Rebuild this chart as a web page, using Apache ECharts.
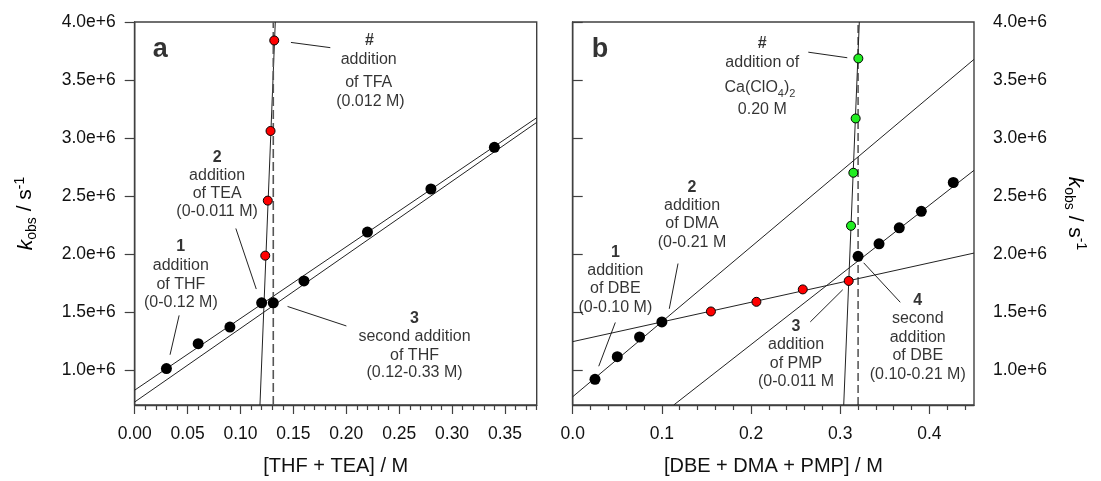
<!DOCTYPE html>
<html>
<head>
<meta charset="utf-8">
<script src="https://cdn.jsdelivr.net/npm/echarts@6/dist/echarts.min.js"></script>
<style>
  html, body { margin: 0; padding: 0; background: #fff; }
  #chart { width: 1101px; height: 481px; }
</style>
</head>
<body>
<div id="chart"></div>
<script>
// ---------- panel a : [THF + TEA] ----------
const aThfX = [0.03, 0.06, 0.09, 0.12, 0.131, 0.16, 0.22, 0.28, 0.34];
const aThfY = [1.014e6, 1.228e6, 1.371e6, 1.580e6, 1.580e6, 1.769e6, 2.190e6, 2.561e6, 2.920e6];
const aTeaX = [0.1234, 0.1258, 0.1284, 0.1319];
const aTeaY = [1.987e6, 2.461e6, 3.061e6, 3.841e6];
// fitted lines, read where they meet the frame
const aFit1X = [0, 0.38],          aFit1Y = [0.828e6, 3.175e6];
const aFit3X = [0, 0.38],          aFit3Y = [0.726e6, 3.135e6];
const aFit2X = [0.1184, 0.1329],   aFit2Y = [0.7e6, 4.0e6];
const aDashX = 0.131;

// ---------- panel b : [DBE + DMA + PMP] ----------
const bDbeX = [0.025, 0.05, 0.075, 0.10];
const bDbeY = [0.921e6, 1.116e6, 1.286e6, 1.416e6];
const bDmaX = [0.155, 0.206, 0.258, 0.3095];
const bDmaY = [1.506e6, 1.589e6, 1.696e6, 1.769e6];
const bCaX = [0.3121, 0.3147, 0.3173, 0.3203];
const bCaY = [2.244e6, 2.701e6, 3.169e6, 3.686e6];
const bDbe2X = [0.32, 0.3435, 0.3662, 0.3909, 0.4268];
const bDbe2Y = [1.981e6, 2.089e6, 2.227e6, 2.369e6, 2.617e6];
const bFitAX = [0, 0.45],          bFitAY = [0.771e6, 3.678e6];
const bFitBX = [0, 0.45],          bFitBY = [1.246e6, 2.009e6];
const bFitCX = [0.1133, 0.45],     bFitCY = [0.7e6, 2.722e6];
const bFitDX = [0.3039, 0.3214],   bFitDY = [0.7e6, 4.0e6];
const bDashX = 0.32;

// ---------- ticks ----------
const yTicks = [1.0e6, 1.5e6, 2.0e6, 2.5e6, 3.0e6, 3.5e6, 4.0e6];
const aXTicks = [0, 0.05, 0.10, 0.15, 0.20, 0.25, 0.30, 0.35];
const bXTicks = [0, 0.1, 0.2, 0.3, 0.4];
const aXMinor = [];
for (let i = 1; i <= 38; i++) if (i % 5) aXMinor.push(i / 100);
const bXMinor = [];
for (let i = 1; i <= 22; i++) if (i % 5) bXMinor.push(i / 50);

// ---------- annotations (data coordinates) ----------
// [x, y, text, kind]
const notesA = [
  [0.0241, 3.765e6, 'a', 'panel'],
  [0.2219, 3.841e6, '#', 'bold'],
  [0.2212, 3.678e6, 'addition', ''],
  [0.2212, 3.474e6, 'of TFA', ''],
  [0.2228, 3.310e6, '(0.012 M)', ''],
  [0.0779, 2.835e6, '2', 'bold'],
  [0.0779, 2.674e6, 'addition', ''],
  [0.0779, 2.518e6, 'of TEA', ''],
  [0.0779, 2.363e6, '(0-0.011 M)', ''],
  [0.0436, 2.066e6, '1', 'bold'],
  [0.0436, 1.902e6, 'addition', ''],
  [0.0436, 1.741e6, 'of THF', ''],
  [0.0436, 1.585e6, '(0-0.12 M)', ''],
  [0.2645, 1.444e6, '3', 'bold'],
  [0.2645, 1.286e6, 'second addition', ''],
  [0.2645, 1.127e6, 'of THF', ''],
  [0.2645, 0.978e6, '(0.12-0.33 M)', '']
];
const notesB = [
  [0.0306, 3.765e6, 'b', 'panel'],
  [0.2126, 3.813e6, '#', 'bold'],
  [0.2126, 3.650e6, 'addition of', ''],
  [0.2100, 3.438e6, 'Ca(ClO4)2', 'ca'],
  [0.2126, 3.248e6, '0.20 M', ''],
  [0.1338, 2.575e6, '2', 'bold'],
  [0.1338, 2.420e6, 'addition', ''],
  [0.1338, 2.259e6, 'of DMA', ''],
  [0.1338, 2.100e6, '(0-0.21 M', ''],
  [0.0478, 2.015e6, '1', 'bold'],
  [0.0478, 1.854e6, 'addition', ''],
  [0.0478, 1.699e6, 'of DBE', ''],
  [0.0478, 1.535e6, '(0-0.10 M)', ''],
  [0.2504, 1.373e6, '3', 'bold'],
  [0.2504, 1.218e6, 'addition', ''],
  [0.2504, 1.054e6, 'of PMP', ''],
  [0.2504, 0.898e6, '(0-0.011 M', ''],
  [0.3869, 1.600e6, '4', 'bold'],
  [0.3869, 1.444e6, 'second', ''],
  [0.3869, 1.280e6, 'addition', ''],
  [0.3869, 1.125e6, 'of DBE', ''],
  [0.3869, 0.964e6, '(0.10-0.21 M)', '']
];
// leader lines [x1, y1, x2, y2]
const leadersA = [
  [0.1477, 3.824e6, 0.1849, 3.779e6],
  [0.0956, 2.221e6, 0.1149, 1.699e6],
  [0.0420, 1.472e6, 0.0334, 1.133e6],
  [0.1445, 1.549e6, 0.2001, 1.381e6]
];
const leadersB = [
  [0.2642, 3.740e6, 0.3079, 3.692e6],
  [0.1181, 1.919e6, 0.1083, 1.529e6],
  [0.0478, 1.411e6, 0.0292, 1.034e6],
  [0.2664, 1.416e6, 0.3028, 1.693e6],
  [0.3263, 1.925e6, 0.3673, 1.585e6]
];

const fontFam = '"Liberation Sans", Arial, sans-serif';
const ink = '#222';
const frame = '#404040';

const zip = (xs, ys) => xs.map((x, i) => [x, ys[i]]);

function seg(xs, ys, gi, opts) {
  return Object.assign({
    type: 'line', xAxisIndex: gi * 2, yAxisIndex: gi,
    data: zip(xs, ys), symbol: 'none', silent: true, z: 1, clip: true,
    lineStyle: { color: ink, width: 1 }
  }, opts || {});
}
function dots(xs, ys, gi, color, size) {
  return {
    type: 'scatter', xAxisIndex: gi * 2, yAxisIndex: gi, data: zip(xs, ys),
    symbolSize: size, silent: true, z: 4,
    itemStyle: { color: color, borderColor: '#000', borderWidth: color === '#000' ? 0 : 1, opacity: 1 }
  };
}
const noteRich = {
  n: { fontSize: 16, fontFamily: fontFam, color: '#000' },
  b: { fontSize: 16, fontFamily: fontFam, color: '#000', fontWeight: 'bold' },
  p: { fontSize: 27, fontFamily: fontFam, color: '#000', fontWeight: 'bold' },
  s: { fontSize: 11, fontFamily: fontFam, color: '#000', verticalAlign: 'bottom', lineHeight: 11 },
  t: { fontSize: 16, fontFamily: fontFam, color: '#000', lineHeight: 24 }
};
function notes(list, gi) {
  return {
    type: 'scatter', xAxisIndex: gi * 2, yAxisIndex: gi, symbolSize: 0, silent: true, z: 6,
    data: list.map(n => ({ value: [n[0], n[1]], name: n[2], kind: n[3] })),
    itemStyle: { color: 'transparent' },
    label: {
      show: true, position: 'inside', color: '#000',
      formatter: p => {
        const k = p.data.kind, t = p.data.name;
        if (k === 'panel') return '{p|' + t + '}';
        if (k === 'bold') return '{b|' + t + '}';
        if (k === 'ca') return '{t|Ca(ClO}{s|4}{t|)}{s|2}';
        return '{n|' + t + '}';
      },
      rich: noteRich
    }
  };
}
function leaders(list, gi) {
  return list.map(l => seg([l[0], l[2]], [l[1], l[3]], gi, { z: 5 }));
}

const nameRich = {
  k: { fontSize: 21, fontStyle: 'italic', fontFamily: fontFam, color: '#000', lineHeight: 26 },
  s: { fontSize: 14, fontFamily: fontFam, color: '#000', verticalAlign: 'bottom', lineHeight: 14 },
  n: { fontSize: 21, fontFamily: fontFam, color: '#000', lineHeight: 26 },
  p: { fontSize: 14, fontFamily: fontFam, color: '#000', verticalAlign: 'top', lineHeight: 14 }
};
const yName = '{k|k}{s|obs}{n| / s}{p|-1}';

function xMajor(gi, max, ticks, digits, name) {
  return {
    type: 'value', gridIndex: gi, min: 0, max: max, position: 'bottom',
    axisLine: { show: true, lineStyle: { color: frame, width: 1.4 } },
    axisTick: { show: true, length: 9, customValues: ticks, lineStyle: { color: frame, width: 1.2 } },
    axisLabel: { customValues: ticks, formatter: v => v.toFixed(digits), fontSize: 17.5,
      fontFamily: fontFam, color: '#111', margin: 20 },
    splitLine: { show: false },
    name: name, nameLocation: 'middle', nameGap: 51,
    nameTextStyle: { fontSize: 20, fontFamily: fontFam, color: '#111' }
  };
}
function xMinor(gi, max, ticks) {
  return {
    type: 'value', gridIndex: gi, min: 0, max: max, position: 'bottom',
    axisLine: { show: false },
    axisTick: { show: true, length: 5, customValues: ticks, lineStyle: { color: frame, width: 1.2 } },
    axisLabel: { show: false }, splitLine: { show: false }
  };
}
function yAxis(gi, pos, rotate, gap) {
  return {
    type: 'value', gridIndex: gi, min: 0.7e6, max: 4.0e6, position: pos,
    axisLine: { show: true, lineStyle: { color: frame, width: 1.4 } },
    axisTick: { show: true, length: 10, customValues: yTicks, lineStyle: { color: frame, width: 1.2 } },
    axisLabel: { customValues: yTicks, formatter: v => (v / 1e6).toFixed(1) + 'e+6', fontSize: 17.5,
      fontFamily: fontFam, color: '#111', margin: 19 },
    splitLine: { show: false },
    name: yName, nameLocation: 'middle', nameGap: gap, nameRotate: rotate,
    nameTextStyle: { rich: nameRich }
  };
}

const chart = echarts.init(document.getElementById('chart'), null, { renderer: 'canvas' });
chart.setOption({
  animation: false,
  backgroundColor: '#fff',
  grid: [
    { left: 134.7, top: 22, width: 402, height: 389.7, show: true, borderColor: frame, borderWidth: 1.4 },
    { left: 572.7, top: 22, width: 401.3, height: 389.7, show: true, borderColor: frame, borderWidth: 1.4 }
  ],
  xAxis: [
    xMajor(0, 0.38, aXTicks, 2, '[THF + TEA] / M'),
    xMinor(0, 0.38, aXMinor),
    xMajor(1, 0.45, bXTicks, 1, '[DBE + DMA + PMP] / M'),
    xMinor(1, 0.45, bXMinor)
  ],
  yAxis: [
    yAxis(0, 'left', 90, 96),
    yAxis(1, 'right', -90, 88)
  ],
  series: [
    // panel a
    seg(aFit1X, aFit1Y, 0),
    seg(aFit3X, aFit3Y, 0),
    seg(aFit2X, aFit2Y, 0),
    seg([aDashX, aDashX], [0.7e6, 4.0e6], 0, { lineStyle: { color: '#555', width: 1.6, type: [9, 4] } }),
    dots(aThfX, aThfY, 0, '#000', 11),
    dots(aTeaX, aTeaY, 0, '#ff0000', 9),
    ...leaders(leadersA, 0),
    notes(notesA, 0),
    // panel b
    seg(bFitAX, bFitAY, 1),
    seg(bFitBX, bFitBY, 1),
    seg(bFitCX, bFitCY, 1),
    seg(bFitDX, bFitDY, 1),
    seg([bDashX, bDashX], [0.7e6, 4.0e6], 1, { lineStyle: { color: '#222', width: 1.2, type: [8, 4] } }),
    dots(bDbeX, bDbeY, 1, '#000', 11),
    dots(bDbe2X, bDbe2Y, 1, '#000', 11),
    dots(bDmaX, bDmaY, 1, '#ff0000', 9),
    dots(bCaX, bCaY, 1, '#22ee22', 9),
    ...leaders(leadersB, 1),
    notes(notesB, 1)
  ]
});
</script>
</body>
</html>
